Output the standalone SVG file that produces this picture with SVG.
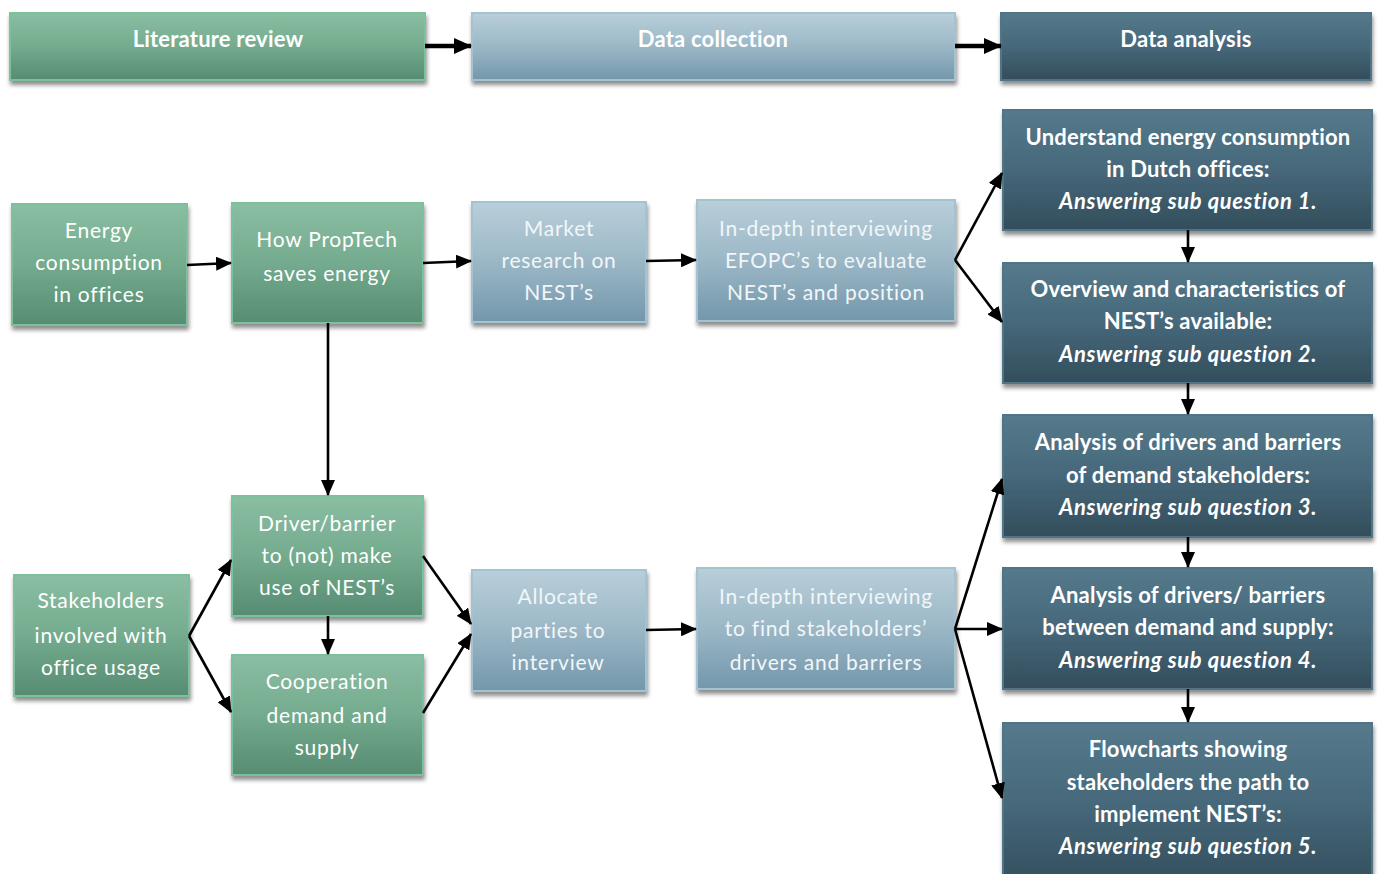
<svg xmlns="http://www.w3.org/2000/svg" width="1378" height="874" viewBox="0 0 1378 874">
  <defs>
    <linearGradient id="gGreen" x1="0" y1="0" x2="0" y2="1">
      <stop offset="0" stop-color="#8BBEA3"/>
      <stop offset="0.5" stop-color="#74AB8E"/>
      <stop offset="1" stop-color="#568C72"/>
    </linearGradient>
    <linearGradient id="gLight" x1="0" y1="0" x2="0" y2="1">
      <stop offset="0" stop-color="#B9CFDA"/>
      <stop offset="0.5" stop-color="#9BB7C6"/>
      <stop offset="1" stop-color="#7397AB"/>
    </linearGradient>
    <linearGradient id="gDark" x1="0" y1="0" x2="0" y2="1">
      <stop offset="0" stop-color="#557A8B"/>
      <stop offset="0.5" stop-color="#46687A"/>
      <stop offset="1" stop-color="#334D5B"/>
    </linearGradient>
    <filter id="shadow" x="-10%" y="-10%" width="125%" height="140%">
      <feDropShadow dx="1" dy="4" stdDeviation="2" flood-color="#000" flood-opacity="0.45"/>
    </filter>
    <marker id="arrow" markerUnits="userSpaceOnUse" markerWidth="16" markerHeight="14" refX="15" refY="7" orient="auto">
      <path d="M0,0 L16,7 L0,14 Z" fill="#000"/>
    </marker>
    <marker id="arrowBig" markerUnits="userSpaceOnUse" markerWidth="18" markerHeight="16" refX="17" refY="8" orient="auto">
      <path d="M0,0 L18,8 L0,16 Z" fill="#000"/>
    </marker>
  </defs>
  <style>
    .green { fill: url(#gGreen); stroke: #7CC09C; stroke-width: 2; filter: url(#shadow); }
    .light { fill: url(#gLight); stroke: #A3C3D3; stroke-width: 2; filter: url(#shadow); }
    .dark { fill: url(#gDark); stroke: #4F7586; stroke-width: 2; filter: url(#shadow); }
    text { font-family: Lato, "Open Sans", "Liberation Sans", sans-serif; fill: #FFFFFF; text-anchor: middle; dominant-baseline: central; transform: translateY(-2px); }
    .reg { font-size: 21px; letter-spacing: 0.75px; }
    .lt { fill: #F2F6F8; }
    .bold { font-size: 22px; font-weight: bold; letter-spacing: 0.2px; }
    .it { font-style: italic; font-weight: bold; letter-spacing: 0.6px; }
    .con { fill: none; stroke: #000; stroke-width: 2.6; marker-end: url(#arrow); }
    .conBig { fill: none; stroke: #000; stroke-width: 4.5; marker-end: url(#arrowBig); }
  </style>

  <rect width="1378" height="874" fill="#FFFFFF"/>

  <!-- phase headers -->
  <g id="literature-review">
    <rect class="green" x="10" y="13" width="415" height="67"/>
    <text class="bold" x="218" y="40">Literature review</text>
  </g>
  <g id="data-collection">
    <rect class="light" x="472" y="13" width="483" height="67"/>
    <text class="bold" x="713" y="40">Data collection</text>
  </g>
  <g id="data-analysis">
    <rect class="dark" x="1001" y="13" width="370" height="67"/>
    <text class="bold" x="1186" y="40">Data analysis</text>
  </g>

  <!-- literature nodes -->
  <g id="energy-consumption">
    <rect class="green" x="12" y="204" width="175" height="121"/>
    <text class="reg" x="99" y="231">Energy</text>
    <text class="reg" x="99" y="263">consumption</text>
    <text class="reg" x="99" y="295">in offices</text>
  </g>
  <g id="proptech-saves">
    <rect class="green" x="232" y="203" width="191" height="120"/>
    <text class="reg" x="327" y="240">How PropTech</text>
    <text class="reg" x="327" y="274">saves energy</text>
  </g>
  <g id="stakeholders">
    <rect class="green" x="14" y="575" width="175" height="121"/>
    <text class="reg" x="101" y="601">Stakeholders</text>
    <text class="reg" x="101" y="636">involved with</text>
    <text class="reg" x="101" y="668">office usage</text>
  </g>
  <g id="driver-barrier">
    <rect class="green" x="232" y="496" width="191" height="120"/>
    <text class="reg" x="327" y="524">Driver/barrier</text>
    <text class="reg" x="327" y="556">to (not) make</text>
    <text class="reg" x="327" y="588">use of NEST’s</text>
  </g>
  <g id="cooperation">
    <rect class="green" x="232" y="655" width="191" height="120"/>
    <text class="reg" x="327" y="682">Cooperation</text>
    <text class="reg" x="327" y="716">demand and</text>
    <text class="reg" x="327" y="748">supply</text>
  </g>

  <!-- data collection nodes -->
  <g id="market-research">
    <rect class="light" x="472" y="202" width="174" height="120"/>
    <text class="reg lt" x="559" y="229">Market</text>
    <text class="reg lt" x="559" y="261">research on</text>
    <text class="reg lt" x="559" y="293">NEST’s</text>
  </g>
  <g id="interview-efopc">
    <rect class="light" x="697" y="200" width="258" height="121"/>
    <text class="reg lt" x="826" y="229">In-depth interviewing</text>
    <text class="reg lt" x="826" y="261">EFOPC’s to evaluate</text>
    <text class="reg lt" x="826" y="293">NEST’s and position</text>
  </g>
  <g id="allocate-parties">
    <rect class="light" x="472" y="570" width="174" height="121"/>
    <text class="reg lt" x="558" y="597">Allocate</text>
    <text class="reg lt" x="558" y="631">parties to</text>
    <text class="reg lt" x="558" y="663">interview</text>
  </g>
  <g id="interview-stakeholders">
    <rect class="light" x="697" y="568" width="258" height="121"/>
    <text class="reg lt" x="826" y="597">In-depth interviewing</text>
    <text class="reg lt" x="826" y="629">to find stakeholders’</text>
    <text class="reg lt" x="826" y="663">drivers and barriers</text>
  </g>

  <!-- data analysis nodes -->
  <g id="sub-question-1">
    <rect class="dark" x="1003" y="110" width="369" height="120"/>
    <text class="bold" x="1188" y="138">Understand energy consumption</text>
    <text class="bold" x="1188" y="170">in Dutch offices:</text>
    <text class="bold it" x="1188" y="202">Answering sub question 1.</text>
  </g>
  <g id="sub-question-2">
    <rect class="dark" x="1003" y="263" width="369" height="120"/>
    <text class="bold" x="1188" y="290">Overview and characteristics of</text>
    <text class="bold" x="1188" y="322">NEST’s available:</text>
    <text class="bold it" x="1188" y="355">Answering sub question 2.</text>
  </g>
  <g id="sub-question-3">
    <rect class="dark" x="1003" y="415" width="369" height="122"/>
    <text class="bold" x="1188" y="443">Analysis of drivers and barriers</text>
    <text class="bold" x="1188" y="476">of demand stakeholders:</text>
    <text class="bold it" x="1188" y="508">Answering sub question 3.</text>
  </g>
  <g id="sub-question-4">
    <rect class="dark" x="1003" y="568" width="369" height="121"/>
    <text class="bold" x="1188" y="596">Analysis of drivers/ barriers</text>
    <text class="bold" x="1188" y="628">between demand and supply:</text>
    <text class="bold it" x="1188" y="661">Answering sub question 4.</text>
  </g>
  <g id="sub-question-5">
    <rect class="dark" x="1003" y="723" width="369" height="165"/>
    <text class="bold" x="1188" y="750">Flowcharts showing</text>
    <text class="bold" x="1188" y="783">stakeholders the path to</text>
    <text class="bold" x="1188" y="815">implement NEST’s:</text>
    <text class="bold it" x="1188" y="847">Answering sub question 5.</text>
  </g>

  <!-- connectors -->
  <g id="connectors">
    <line class="conBig" x1="425" y1="46" x2="471" y2="46"/>
    <line class="conBig" x1="955" y1="46" x2="1001" y2="46"/>

    <line class="con" x1="187" y1="265" x2="231" y2="263"/>
    <line class="con" x1="423" y1="263" x2="471" y2="261"/>
    <line class="con" x1="646" y1="261" x2="696" y2="260"/>
    <path class="con" d="M955,260 L1002,173"/>
    <path class="con" d="M955,260 L1002,322"/>

    <line class="con" x1="328" y1="323" x2="328" y2="495"/>
    <line class="con" x1="328" y1="616" x2="328" y2="654"/>
    <path class="con" d="M189,636 L231,560"/>
    <path class="con" d="M189,636 L231,712"/>
    <path class="con" d="M423,556 L471,624"/>
    <path class="con" d="M423,713 L471,634"/>
    <line class="con" x1="646" y1="630" x2="696" y2="629"/>

    <path class="con" d="M955,629 L1002,479"/>
    <path class="con" d="M955,629 L1002,629"/>
    <path class="con" d="M955,629 L1002,798"/>

    <line class="con" x1="1188" y1="230" x2="1188" y2="262"/>
    <line class="con" x1="1188" y1="383" x2="1188" y2="414"/>
    <line class="con" x1="1188" y1="537" x2="1188" y2="567"/>
    <line class="con" x1="1188" y1="689" x2="1188" y2="722"/>
  </g>
</svg>
